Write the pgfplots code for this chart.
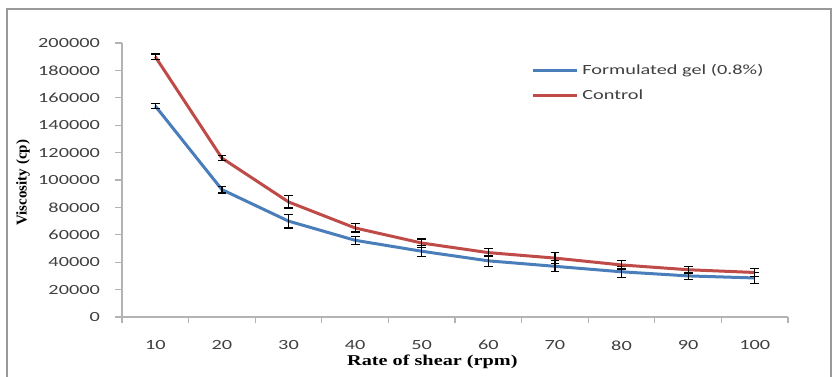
\documentclass[border=0pt]{standalone}
\usepackage{fontspec}
\setmainfont{Carlito}
\newfontfamily\tickfont[FakeStretch=1.45]{Carlito}
\newfontfamily\labfont[FakeStretch=1.35]{Liberation Serif}
\newfontfamily\ylabfont{Liberation Serif}
\usepackage{pgfplots}
\pgfplotsset{compat=1.18}
\definecolor{cblue}{HTML}{4A7EBB}
\definecolor{cred}{HTML}{BE4B48}
\definecolor{axgray}{HTML}{B3B3B3}
\definecolor{txt}{HTML}{404040}
\begin{document}
\begin{tikzpicture}
\draw[gray!80, line width=0.8pt] (-57.5pt,-40pt) -- (-57.5pt,154pt) -- (354.5pt,154pt) -- (354.5pt,-40pt);
\begin{axis}[
  scale only axis, width=333pt, height=137pt,
  xmin=0.5, xmax=10.5, ymin=0, ymax=200000,
  xtick={1,2,3,4,5,6,7,8,9,10},
  xticklabels={10,20,30,40,50,60,70,80,90,100},
  minor xtick={0.5,1.5,2.5,3.5,4.5,5.5,6.5,7.5,8.5,9.5,10.5},
  ytick={0,20000,40000,60000,80000,100000,120000,140000,160000,180000,200000},
  yticklabels={0,20000,40000,60000,80000,100000,120000,140000,160000,180000,200000},
  scaled y ticks=false,
  axis x line=bottom, axis y line=left,
  axis line style={-, axgray, line width=0.8pt},
  tick align=outside,
  major x tick style={draw=none},
  minor x tick style={axgray, line width=0.6pt},
  major y tick style={axgray, line width=0.6pt},
  major tick length=3.5pt, minor tick length=3pt,
  ticklabel style={font=\tickfont\fontsize{7}{8}\selectfont, text=txt},
  yticklabel style={xshift=-4pt},
  xticklabel style={yshift=-4.7pt},
  xlabel={Rate of shear (rpm)},
  ylabel={Viscosity (cp)},
  xlabel style={font=\labfont\bfseries\fontsize{7.5}{9}\selectfont, at={(axis description cs:0.466,0)}, anchor=center, yshift=-22.5pt},
  ylabel style={font=\ylabfont\bfseries\fontsize{7.5}{9}\selectfont, at={(axis description cs:0,0.49)}, anchor=center, yshift=49.5pt},
  legend cell align=left,
  legend style={at={(0.605,0.953)}, anchor=north west, draw=none, fill=none, font=\tickfont\fontsize{7}{8}\selectfont, text=txt, row sep=2pt},
  legend image code/.code={\draw[#1, line width=1.5pt] (0pt,0pt) -- (22pt,0pt);},
  error bars/error bar style={black, line width=0.6pt},
  error bars/error mark options={rotate=90, mark size=2.2pt, black, line width=0.6pt},
]
\addplot[cblue, line width=1.5pt, mark=none, error bars/.cd, y dir=both, y explicit] coordinates {
  (1,154000) +- (0,2000)
  (2,93000) +- (0,2500)
  (3,70000) +- (0,5000)
  (4,56000) +- (0,3000)
  (5,48000) +- (0,4000)
  (6,41000) +- (0,4000)
  (7,37000) +- (0,4000)
  (8,33000) +- (0,4000)
  (9,30000) +- (0,2500)
  (10,28500) +- (0,4000)
};
\addlegendentry{Formulated gel (0.8\%)}
\addplot[cred, line width=1.5pt, mark=none, error bars/.cd, y dir=both, y explicit] coordinates {
  (1,190000) +- (0,2000)
  (2,116000) +- (0,2000)
  (3,84000) +- (0,4500)
  (4,65000) +- (0,3000)
  (5,54000) +- (0,3000)
  (6,47000) +- (0,3000)
  (7,43000) +- (0,4000)
  (8,38000) +- (0,3000)
  (9,34500) +- (0,2500)
  (10,32500) +- (0,3000)
};
\addlegendentry{Control}
\end{axis}
\pgfresetboundingbox
\path (-61pt,-29.5pt) rectangle (355.5pt,158.5pt);
\end{tikzpicture}
\end{document}
